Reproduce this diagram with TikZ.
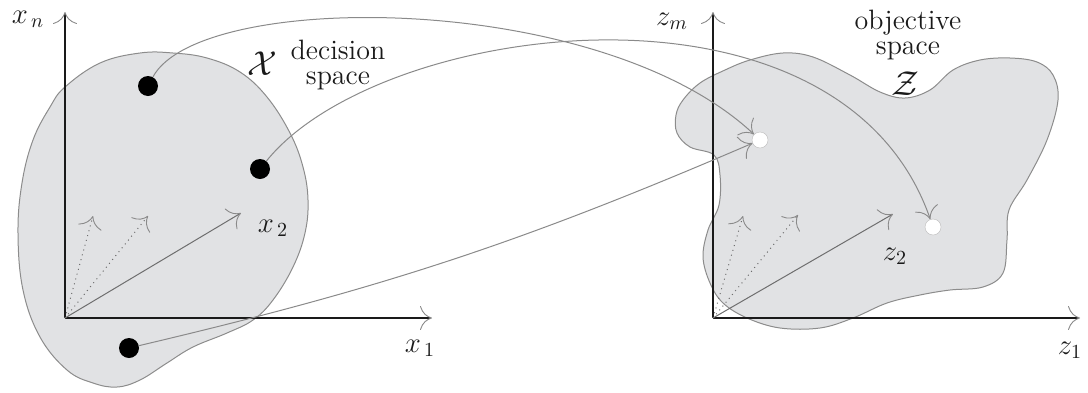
\documentclass[tikz,border=0pt]{standalone}
\usetikzlibrary{arrows.meta}
\definecolor{blobfill}{HTML}{E1E2E4}
\definecolor{blobline}{HTML}{8C8C8C}
\definecolor{ink}{HTML}{1A1A1A}
\definecolor{conn}{HTML}{8A8A8A}
\definecolor{vecc}{HTML}{6E6E6E}
\tikzset{
  cmto/.style={-{To[length=6pt,width=12pt,line width'=0.45pt,color=conn]}},
  axisline/.style={draw=ink,line width=1.1pt,cmto},
  blob/.style={fill=blobfill,draw=blobline,line width=0.5pt},
  vecsolid/.style={draw=vecc,line width=0.5pt,cmto},
  vecdot/.style={draw=vecc,line width=0.5pt,dotted,cmto},
  connector/.style={draw=conn,line width=0.5pt,cmto},
  bdot/.style={circle,fill=black,inner sep=0pt,minimum size=10pt},
  wdot/.style={circle,fill=white,draw=blobline!60,line width=0.2pt,inner sep=0pt,minimum size=8pt},
  lbl/.style={text=ink,inner sep=0pt,font=\fontsize{14}{12.5}\selectfont},
}
\begin{document}
\begin{tikzpicture}[x=0.5pt,y=-0.5pt]
\useasboundingbox (0,0) rectangle (1088,392);
% blobs
\draw[blob] plot[smooth cycle,tension=0.65] coordinates {
 (65,87) (100,63) (140,53) (173,53) (207,58) (240,72) (267,97) (290,133)
 (303,167) (308,200) (305,233) (293,267) (273,300) (253,320) (227,333)
 (193,347) (167,363) (140,380) (117,387) (93,383) (67,370) (40,337)
 (23,290) (18,233) (22,183) (33,140) (50,107)};
\draw[blob] plot[smooth cycle,tension=0.6] coordinates {
 (683,100) (700,83) (725,70) (750,60) (783,53) (813,57) (850,75) (880,92)
 (905,98) (930,90) (953,70) (980,60) (1010,58) (1037,62) (1053,75)
 (1058,100) (1047,140) (1027,180) (1009,210) (1007,240) (1003,273)
 (983,287) (950,290) (920,295) (887,303) (853,318) (820,328) (780,328)
 (747,318) (723,303) (710,283) (703,257) (708,230) (719,205) (720,175)
 (714,155) (690,147) (677,133) (676,115)};
% coordinates
\coordinate (O1) at (65,318);
\coordinate (Xn) at (65,12);
\coordinate (X1) at (432,318);
\coordinate (O2) at (713,318);
\coordinate (Zm) at (713,12);
\coordinate (Z1) at (1080,318);
\coordinate (v1a) at (93,216);
\coordinate (v1b) at (148,216);
\coordinate (v1c) at (241,213);
\coordinate (v2a) at (743,216);
\coordinate (v2b) at (798,215);
\coordinate (v2c) at (893,214);
% axes
\draw[axisline] (O1) -- (Xn);
\draw[axisline] (O1) -- (X1);
\draw[axisline] (O2) -- (Zm);
\draw[axisline] (O2) -- (Z1);
% vectors
\draw[vecdot] (O1) -- (v1a);
\draw[vecdot] (O1) -- (v1b);
\draw[vecsolid] (O1) -- (v1c);
\draw[vecdot] (O2) -- (v2a);
\draw[vecdot] (O2) -- (v2b);
\draw[vecsolid] (O2) -- (v2c);
% points
\node[bdot] (d1) at (148,86) {};
\node[bdot] (d2) at (260,169) {};
\node[bdot] (d3) at (129,348) {};
\node[wdot] (c1) at (760,140) {};
\node[wdot] (c2) at (933,227) {};
% connectors
\draw[connector] (d1) .. controls (200,-10) and (600,-10) .. (c1);
\draw[connector] (d2) .. controls (380,20) and (840,-40) .. (c2);
\draw[connector] (d3) to[bend right=5] (c1);
% labels
\node[lbl] (lxn) at (28,19) {$x_{\,n}$};
\node[lbl] (lx1) at (420,348) {$x_{\,1}$};
\node[lbl] (lx2) at (273,228) {$x_{\,2}$};
\node[lbl] (lzm) at (672,21) {$z_m$};
\node[lbl] (lz1) at (1070,350) {$z_1$};
\node[lbl] (lz2) at (895,256) {$z_2$};
\node[lbl,font=\fontsize{17}{17}\selectfont] (lX) at (262,64) {$\mathcal{X}$};
\node[lbl,align=center] (ldec) at (338,65) {decision\\space};
\node[lbl,align=center] (lobj) at (908,35) {objective\\space};
\node[lbl,font=\fontsize{17}{17}\selectfont] (lZ) at (905,84) {$\mathcal{Z}$};
\end{tikzpicture}
\end{document}
